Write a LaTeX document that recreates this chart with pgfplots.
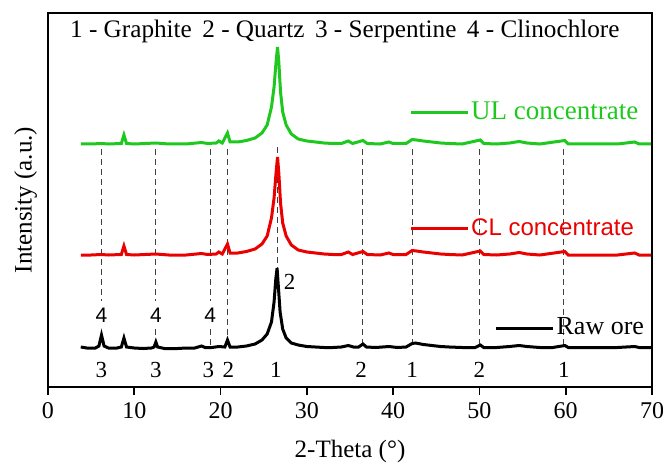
\documentclass[border=0pt]{standalone}
\usepackage{fontspec}
\setmainfont{Liberation Serif}
\newfontfamily\arial{Liberation Sans}
\usepackage{pgfplots}
\usepackage{pgfplotstable}
\pgfplotsset{compat=1.18}
\definecolor{ulgreen}{RGB}{30,200,30}
\definecolor{clred}{RGB}{235,0,0}
\tikzset{
  refline/.style={black!75, line width=0.5pt, dash pattern=on 3pt off 2pt},
  phase/.style={font=\fontsize{11.5}{13}\selectfont},
  four/.style={font=\arial\fontsize{10.5}{12}\selectfont},
}

% Raw ore
\pgfplotstableread{
x y
3.8 40
4.5 39
5.5 39
5.9 41
6.2 52
6.5 41
7.0 39
8.0 39
8.5 40
8.8 49
9.1 40
10 39
11 38.5
12 39
12.3 40
12.5 45
12.7 40
13.5 38.5
15 38.5
16 39
17 39
17.8 41
18.2 39.5
19 39.5
19.8 40.5
20.5 40
20.8 47
21.1 40
22 40
23 41
24 43
24.8 47
25.4 53
25.9 65
26.2 85
26.4 108
26.55 119
26.7 100
26.9 75
27.2 58
27.6 49
28.2 44
29 42
30 40.5
31 40
32 39.5
33 39.5
34 40
34.8 41.5
35.4 40
36 40
36.5 43
36.9 40
38 39.5
39.5 40.5
40.5 39.5
41.5 40
42.2 43.5
42.6 44
43.5 42.5
44.5 41.5
45.5 40.5
46.5 40
48 39.5
49.5 39.5
50.1 42
50.5 39.5
52 39.5
53.5 40.5
54.6 41.5
55.5 40.5
57 39.5
58.5 39.5
59.9 41.5
60.3 39.5
62 39.5
64 39.5
66 39.5
68 40.5
68.5 39.5
70 39.5
}\rawore

% CL concentrate
\pgfplotstableread{
x y
3.8 132
5 132
6.2 132.5
7 132
8.5 132.5
8.8 141
9.1 132.5
10 132
12.5 133
14 132
16 132
17.8 133.5
18.5 132.5
19.5 133
19.8 135
20.2 133
20.8 143
21.1 134
22 134
23 135.5
24 138
24.8 143
25.4 151
25.9 169
26.2 189
26.4 211
26.6 230
26.75 214
26.95 184
27.2 164
27.6 151
28.2 142
29 137
30 135
31 134
32 133
33 132.5
34 132.5
34.8 135
35.3 132.5
36.5 135.5
37 132.5
38.5 132
39.5 134
40 132.5
41.5 132.5
42.2 136.5
42.7 136
43.5 135
44.5 134
45.5 133
46.5 132.5
48 132
50.1 136
50.5 132.5
52 132
53.5 133
54.6 134.5
55.5 133
57 132
59.9 135.5
60.3 132
62 132
64 132
66 132
68 134
68.5 132
70 132
}\clconc

% UL concentrate
\pgfplotstableread{
x y
3.8 243
5 243
6.2 243.5
7 243
8.5 243.5
8.8 252
9.1 243.5
10 243
12.5 244
14 243
16 243
17.8 244.5
18.5 243.5
19.5 244
19.8 246
20.2 244
20.8 254
21.1 245
22 245
23 246.5
24 249
24.8 254
25.4 262
25.9 280
26.2 300
26.4 322
26.6 340
26.75 325
26.95 295
27.2 275
27.6 262
28.2 253
29 248
30 246
31 245
32 244
33 243.5
34 243.5
34.8 246
35.3 243.5
36.5 246.5
37 243.5
38.5 243
39.5 245
40 243.5
41.5 243.5
42.2 247.5
42.7 247
43.5 246
44.5 245
45.5 244
46.5 243.5
48 243
50.1 247
50.5 243.5
52 243
53.5 244
54.6 245.5
55.5 244
57 243
59.9 246.5
60.3 243
62 243
64 243
66 243
68 245
68.5 243
70 243
}\ulconc

\begin{document}
\begin{tikzpicture}
\path[use as bounding box] (-24pt,-40.5pt) rectangle (307.5pt,193.5pt);
\begin{axis}[
  scale only axis,
  width=302pt, height=187pt,
  xmin=0, xmax=70, ymin=0, ymax=374,
  xtick={0,10,...,70},
  ytick=\empty,
  xtick pos=left,
  tick align=outside,
  major tick length=4pt,
  tick style={black, line width=0.8pt},
  axis line style={line width=0.8pt},
  /pgf/number format/assume math mode=true,
  ticklabel style={font=\fontsize{12}{14}\selectfont},
  xlabel={2-Theta (°)},
  ylabel={Intensity (a.u.)},
  label style={font=\fontsize{12.5}{14}\selectfont},
  xlabel style={yshift=-4pt},
  ylabel style={yshift=-2pt},
  clip=false,
]
% reference lines for peak positions
\addplot[refline] coordinates {(20.8,238) (20.8,42)};
\addplot[refline] coordinates {(36.4,238) (36.4,42)};
\addplot[refline] coordinates {(42.2,238) (42.2,42)};
\addplot[refline] coordinates {(50.0,238) (50.0,42)};
\addplot[refline] coordinates {(59.8,238) (59.8,42)};
\addplot[refline] coordinates {(6.2,238) (6.2,86)};
\addplot[refline] coordinates {(12.5,238) (12.5,86)};
\addplot[refline] coordinates {(18.8,238) (18.8,86)};
\addplot[refline] coordinates {(12.5,58) (12.5,42)};
\addplot[refline] coordinates {(18.8,58) (18.8,42)};
\addplot[refline] coordinates {(26.6,240) (26.6,119)};

\addplot[ulgreen, line width=1.5pt] table {\ulconc};
\addplot[clred, line width=1.5pt] table {\clconc};
\addplot[black, line width=1.5pt] table {\rawore};

% legend keys
\addplot[ulgreen, line width=1.5pt] coordinates {(42.1,274) (48.7,274)};
\addplot[clred, line width=1.5pt] coordinates {(42.1,159) (48.7,159)};
\addplot[black, line width=1.5pt] coordinates {(51.9,59) (58.5,59)};
\node[anchor=west, text=ulgreen, font=\fontsize{13.5}{15}\selectfont, inner sep=0pt] at (axis cs:49.0,276) {UL concentrate};
\node[anchor=west, text=clred, font=\arial\fontsize{12}{14}\selectfont, inner sep=0pt] at (axis cs:49.0,160) {CL concentrate};
\node[anchor=west, font=\fontsize{13}{15}\selectfont, inner sep=0pt] at (axis cs:58.9,61) {Raw ore};

% title
\node[font=\fontsize{12.6}{14}\selectfont] at (axis cs:34.4,356) {1 - Graphite\, 2 - Quartz\, 3 - Serpentine\, 4 - Clinochlore};

% phase labels
\node[four] at (axis cs:6.2,72) {4};
\node[four] at (axis cs:12.5,72) {4};
\node[four] at (axis cs:18.8,72) {4};
\node[phase] at (axis cs:28.0,105) {2};
\node[phase] at (axis cs:6.2,17) {3};
\node[phase] at (axis cs:12.5,17) {3};
\node[phase] at (axis cs:18.6,17) {3};
\node[phase] at (axis cs:20.9,17) {2};
\node[phase] at (axis cs:26.4,17) {1};
\node[phase] at (axis cs:36.3,17) {2};
\node[phase] at (axis cs:42.2,17) {1};
\node[phase] at (axis cs:50.0,17) {2};
\node[phase] at (axis cs:59.8,17) {1};
\end{axis}
\draw[line width=0.8pt] (0pt,0pt) rectangle (302pt,187pt);
\end{tikzpicture}
\end{document}
